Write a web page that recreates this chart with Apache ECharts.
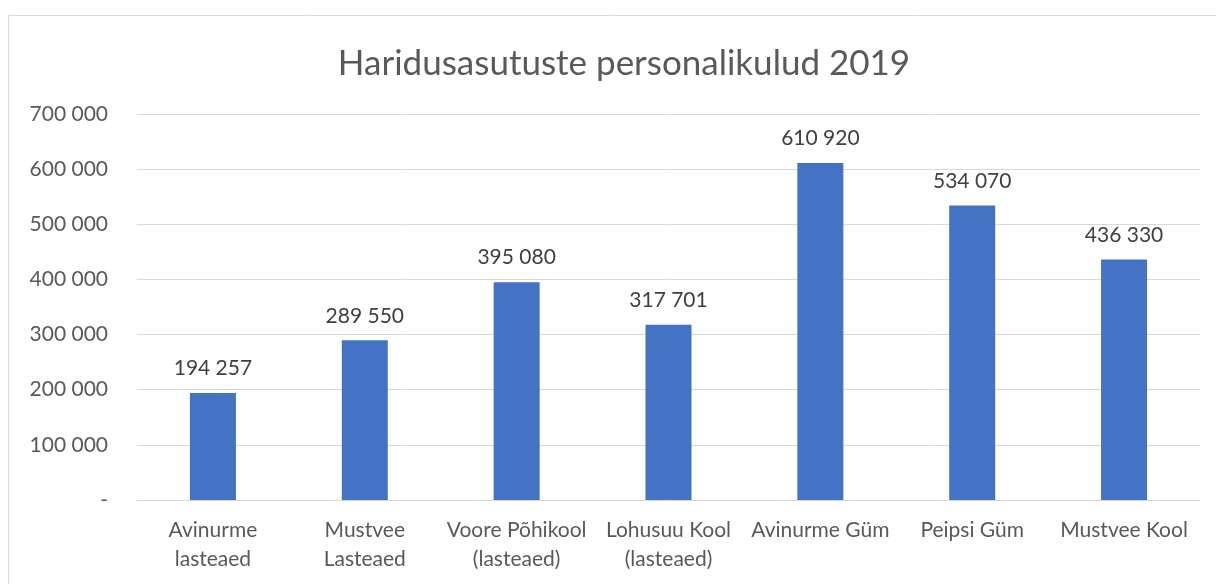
<!DOCTYPE html>
<html>
<head>
<meta charset="utf-8">
<script src="https://cdn.jsdelivr.net/npm/echarts@6/dist/echarts.min.js"></script>
<style>
html, body { margin: 0; padding: 0; background: #fff; }
#chart { width: 1216px; height: 584px; }
</style>
</head>
<body>
<div id="chart"></div>
<script>
// andmed
const categories = ['Avinurme\nlasteaed', 'Mustvee\nLasteaed', 'Voore Põhikool\n(lasteaed)', 'Lohusuu Kool\n(lasteaed)', 'Avinurme Güm', 'Peipsi Güm', 'Mustvee Kool'];
const costs = [194257, 289550, 395080, 317701, 610920, 534070, 436330];
const titleText = 'Haridusasutuste personalikulud 2019';

const FONT = 'Lato, "Open Sans", sans-serif';

// tuhandete eraldaja tühik, null kui "-"
const fmt = (v) => {
	if (v === 0) return '-';
	return String(v).replace(/\B(?=(\d{3})+(?!\d))/g, ' ');
};

let myChart = echarts.init(document.getElementById('chart'));
myChart.setOption({
	animation: false,
	title: {
		text: titleText,
		left: 619,
		textAlign: 'center',
		top: 41,
		textStyle: { fontFamily: FONT, fontSize: 35, fontWeight: 'normal', color: '#595959' }
	},
	graphic: [{
		type: 'rect',
		shape: { x: 8.5, y: 15.5, width: 1230, height: 600 },
		style: { fill: 'none', stroke: '#d9d9d9', lineWidth: 1 },
		silent: true
	}],
	grid: { left: 137, right: 16, top: 114, bottom: 84, containLabel: false },
	xAxis: {
		type: 'category',
		data: categories,
		axisTick: { show: false },
		axisLine: { lineStyle: { color: '#d9d9d9', width: 1 } },
		axisLabel: { fontFamily: FONT, fontSize: 21, color: '#595959', margin: 16, lineHeight: 29, interval: 0 }
	},
	yAxis: {
		type: 'value',
		min: 0,
		max: 700000,
		interval: 100000,
		axisLine: { show: false },
		axisTick: { show: false },
		splitLine: { lineStyle: { color: '#d9d9d9', width: 1 } },
		axisLabel: { fontFamily: FONT, fontSize: 21, color: '#595959', margin: 29, formatter: fmt }
	},
	series: [{
		type: 'bar',
		data: costs,
		barWidth: 46,
		itemStyle: { color: '#4472c4' },
		label: {
			show: true,
			position: 'top',
			distance: 14,
			fontFamily: FONT,
			fontSize: 21,
			color: '#404040',
			formatter: (p) => fmt(p.value)
		}
	}]
});
</script>
</body>
</html>
